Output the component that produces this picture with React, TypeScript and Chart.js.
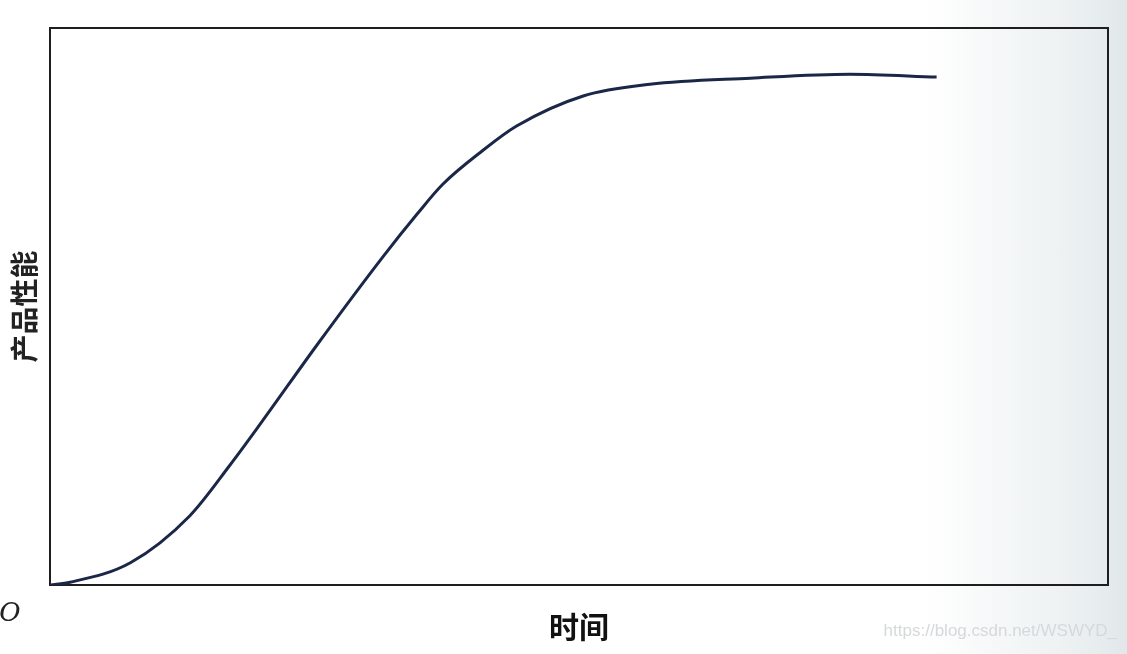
import { useEffect, useRef } from "react";
import { Chart, registerables } from "chart.js";

Chart.register(...registerables);

// Time (x, 0–100) and product performance (y, 0–100) read from the S-curve
const timeValues = [0, 1.9, 7.6, 13.2, 17.0, 20.1, 25.2, 31.5, 34.7, 37.1, 40.9, 44.1, 50.4, 56.7, 66.2, 75.6, 83.8];
const performanceValues = [0, 0.5, 4.0, 12.4, 21.5, 29.5, 43.0, 59.0, 66.6, 71.9, 78.0, 82.4, 87.8, 89.9, 91.0, 91.7, 91.2];

const xAxisTitle = "时间";
const yAxisTitle = "产品性能";
const originLabel = "O";
const watermark = "https://blog.csdn.net/WSWYD_";

const extrasPlugin = {
  id: "extras",
  afterDraw(chart: any) {
    const { ctx, chartArea } = chart;
    ctx.save();
    ctx.fillStyle = "#222";
    ctx.font = "italic 26px 'DejaVu Serif', serif";
    ctx.textAlign = "center";
    ctx.textBaseline = "middle";
    ctx.fillText(originLabel, chartArea.left - 40, chartArea.bottom + 29);
    ctx.fillStyle = "#d6d9db";
    ctx.font = "17px 'Liberation Sans', Arial, sans-serif";
    ctx.textAlign = "right";
    ctx.textBaseline = "alphabetic";
    ctx.fillText(watermark, chart.width - 10, chart.height - 18);
    ctx.restore();
  },
};

export default function App() {
  const canvasRef = useRef<HTMLCanvasElement | null>(null);

  useEffect(() => {
    if (!canvasRef.current) return;
    const borderColor = "#1e1e1e";
    const hiddenAxis = (position: string) => ({
      type: "linear" as const,
      position,
      min: 0,
      max: 100,
      grid: { display: false, drawTicks: false },
      ticks: { display: false },
      border: { display: true, color: borderColor, width: 2 },
    });
    const chart = new Chart(canvasRef.current, {
      type: "line",
      data: {
        datasets: [
          {
            data: timeValues.map((x, i) => ({ x, y: performanceValues[i] })),
            borderColor: "#1b2747",
            borderWidth: 3,
            pointRadius: 0,
            fill: false,
            cubicInterpolationMode: "monotone",
          },
        ],
      },
      options: {
        animation: false,
        responsive: false,
        maintainAspectRatio: false,
        layout: { padding: { top: 28, right: 19, bottom: 0, left: 0 } },
        plugins: { legend: { display: false }, tooltip: { enabled: false } },
        scales: {
          x: {
            ...hiddenAxis("bottom"),
            title: {
              display: true,
              text: xAxisTitle,
              color: "#111",
              font: { family: "'Noto Sans CJK SC', sans-serif", size: 30, weight: "bold" },
              padding: { top: 24, bottom: 9 },
            },
          },
          y: {
            ...hiddenAxis("left"),
            title: {
              display: true,
              text: yAxisTitle,
              color: "#222",
              font: { family: "'Noto Sans CJK SC', sans-serif", size: 28, weight: "bold" },
              padding: { top: 8, bottom: 8.4 },
            },
          },
          x2: hiddenAxis("top"),
          y2: hiddenAxis("right"),
        },
      } as any,
      plugins: [extrasPlugin],
    });
    return () => chart.destroy();
  }, []);

  return (
    <div
      style={{
        position: "fixed",
        left: 0,
        top: 0,
        width: 1127,
        height: 654,
        background: "linear-gradient(90deg, #ffffff 0%, #ffffff 82%, #eef2f3 94%, #e2e8ea 100%)",
      }}
    >
      <canvas ref={canvasRef} width={1127} height={654} style={{ width: 1127, height: 654 }} />
    </div>
  );
}
